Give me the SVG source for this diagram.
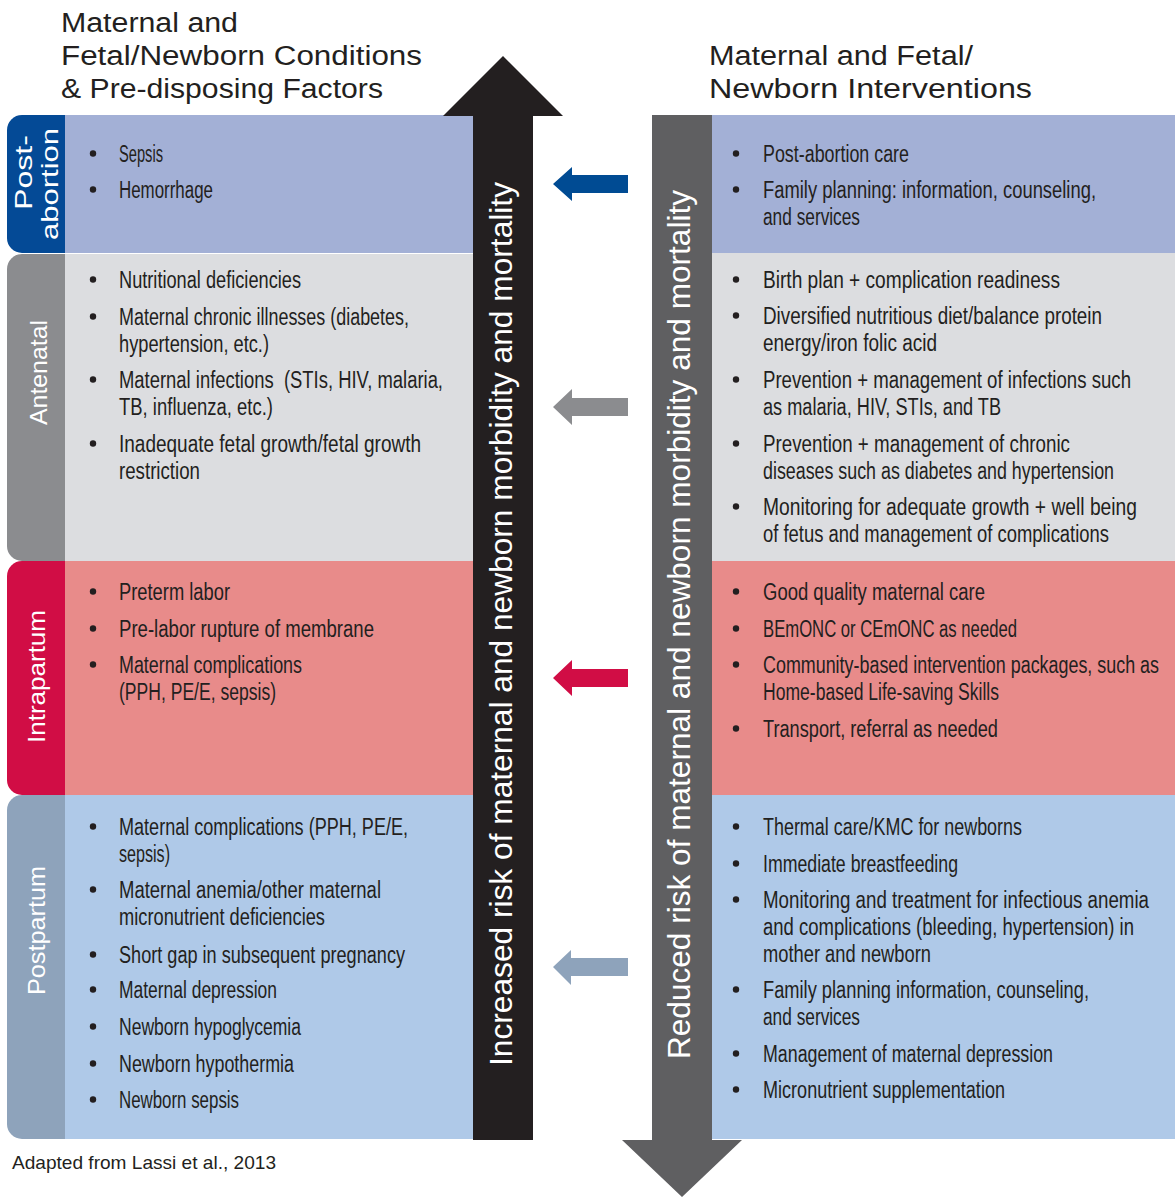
<svg xmlns="http://www.w3.org/2000/svg" width="1175" height="1198" viewBox="0 0 1175 1198">
<style>
text{font-family:"Liberation Sans",Arial,sans-serif;fill:#231f20}
.b{font-size:23px}
.h{font-size:27px}
.lab{font-size:24px;fill:#fff}
.v{font-size:31px;fill:#fff}
.f{font-size:19px}
.dot{fill:#231f20}
</style>
<rect width="1175" height="1198" fill="#fff"/>

<g id="heading-left">
<text class="h" x="61" y="32" textLength="177" lengthAdjust="spacingAndGlyphs">Maternal and</text>
<text class="h" x="61" y="65" textLength="361" lengthAdjust="spacingAndGlyphs">Fetal/Newborn Conditions</text>
<text class="h" x="61" y="98" textLength="322" lengthAdjust="spacingAndGlyphs">&amp; Pre-disposing Factors</text>
</g>
<g id="heading-right">
<text class="h" x="709" y="65" textLength="264" lengthAdjust="spacingAndGlyphs">Maternal and Fetal/</text>
<text class="h" x="709" y="98" textLength="323" lengthAdjust="spacingAndGlyphs">Newborn Interventions</text>
</g>

<!-- LEFT PANEL -->
<g id="left-postabortion">
<rect x="65" y="115" width="410" height="138" fill="#a3b0d6"/>
<path d="M65,115 H22 A15,15 0 0 0 7,130 V238 A15,15 0 0 0 22,253 H65 Z" fill="#044a96"/>
<text class="lab" transform="translate(32,210) rotate(-90)" textLength="75" lengthAdjust="spacingAndGlyphs">Post-</text>
<text class="lab" transform="translate(58,240) rotate(-90)" textLength="112" lengthAdjust="spacingAndGlyphs">abortion</text>
<circle class="dot" cx="93" cy="153.5" r="3.2"/><text class="b" x="119" y="162" textLength="44" lengthAdjust="spacingAndGlyphs">Sepsis</text>
<circle class="dot" cx="93" cy="189.5" r="3.2"/><text class="b" x="119" y="198" textLength="94" lengthAdjust="spacingAndGlyphs">Hemorrhage</text>
</g>

<g id="left-antenatal">
<rect x="65" y="254" width="410" height="307" fill="#dcdde0"/>
<path d="M65,254 H22 A15,15 0 0 0 7,269 V546 A15,15 0 0 0 22,561 H65 Z" fill="#8b8c8f"/>
<text class="lab" transform="translate(47,425) rotate(-90)" textLength="105" lengthAdjust="spacingAndGlyphs">Antenatal</text>
<circle class="dot" cx="93" cy="279.5" r="3.2"/><text class="b" x="119" y="288" textLength="182" lengthAdjust="spacingAndGlyphs">Nutritional deficiencies</text>
<circle class="dot" cx="93" cy="316.5" r="3.2"/><text class="b" x="119" y="325" textLength="290" lengthAdjust="spacingAndGlyphs">Maternal chronic illnesses (diabetes,</text>
<text class="b" x="119" y="352" textLength="150" lengthAdjust="spacingAndGlyphs">hypertension, etc.)</text>
<circle class="dot" cx="93" cy="379.5" r="3.2"/><text class="b" x="119" y="388" textLength="324" lengthAdjust="spacingAndGlyphs" xml:space="preserve">Maternal infections  (STIs, HIV, malaria,</text>
<text class="b" x="119" y="415" textLength="154" lengthAdjust="spacingAndGlyphs">TB, influenza, etc.)</text>
<circle class="dot" cx="93" cy="443.5" r="3.2"/><text class="b" x="119" y="452" textLength="302" lengthAdjust="spacingAndGlyphs">Inadequate fetal growth/fetal growth</text>
<text class="b" x="119" y="479" textLength="81" lengthAdjust="spacingAndGlyphs">restriction</text>
</g>

<g id="left-intrapartum">
<rect x="65" y="561" width="410" height="234" fill="#e88b8a"/>
<path d="M65,561 H22 A15,15 0 0 0 7,576 V780 A15,15 0 0 0 22,795 H65 Z" fill="#d10d45"/>
<text class="lab" transform="translate(45,743) rotate(-90)" textLength="133" lengthAdjust="spacingAndGlyphs">Intrapartum</text>
<circle class="dot" cx="93" cy="591.5" r="3.2"/><text class="b" x="119" y="600" textLength="111" lengthAdjust="spacingAndGlyphs">Preterm labor</text>
<circle class="dot" cx="93" cy="628.5" r="3.2"/><text class="b" x="119" y="637" textLength="255" lengthAdjust="spacingAndGlyphs">Pre-labor rupture of membrane</text>
<circle class="dot" cx="93" cy="664.5" r="3.2"/><text class="b" x="119" y="673" textLength="183" lengthAdjust="spacingAndGlyphs">Maternal complications</text>
<text class="b" x="119" y="700" textLength="157" lengthAdjust="spacingAndGlyphs">(PPH, PE/E, sepsis)</text>
</g>

<g id="left-postpartum">
<rect x="65" y="795" width="410" height="344" fill="#afc9e8"/>
<path d="M65,795 H22 A15,15 0 0 0 7,810 V1124 A15,15 0 0 0 22,1139 H65 Z" fill="#8ea3bb"/>
<text class="lab" transform="translate(45,995) rotate(-90)" textLength="129" lengthAdjust="spacingAndGlyphs">Postpartum</text>
<circle class="dot" cx="93" cy="826.5" r="3.2"/><text class="b" x="119" y="835" textLength="289" lengthAdjust="spacingAndGlyphs">Maternal complications (PPH, PE/E,</text>
<text class="b" x="119" y="862" textLength="51" lengthAdjust="spacingAndGlyphs">sepsis)</text>
<circle class="dot" cx="93" cy="889.5" r="3.2"/><text class="b" x="119" y="898" textLength="262" lengthAdjust="spacingAndGlyphs">Maternal anemia/other maternal</text>
<text class="b" x="119" y="925" textLength="206" lengthAdjust="spacingAndGlyphs">micronutrient deficiencies</text>
<circle class="dot" cx="93" cy="954.5" r="3.2"/><text class="b" x="119" y="963" textLength="286" lengthAdjust="spacingAndGlyphs">Short gap in subsequent pregnancy</text>
<circle class="dot" cx="93" cy="989.5" r="3.2"/><text class="b" x="119" y="998" textLength="158" lengthAdjust="spacingAndGlyphs">Maternal depression</text>
<circle class="dot" cx="93" cy="1026.5" r="3.2"/><text class="b" x="119" y="1035" textLength="182" lengthAdjust="spacingAndGlyphs">Newborn hypoglycemia</text>
<circle class="dot" cx="93" cy="1063.5" r="3.2"/><text class="b" x="119" y="1072" textLength="175" lengthAdjust="spacingAndGlyphs">Newborn hypothermia</text>
<circle class="dot" cx="93" cy="1099.5" r="3.2"/><text class="b" x="119" y="1108" textLength="120" lengthAdjust="spacingAndGlyphs">Newborn sepsis</text>
</g>

<!-- RIGHT PANEL -->
<g id="right-postabortion">
<rect x="712" y="115" width="463" height="138" fill="#a3b0d6"/>
<circle class="dot" cx="736" cy="153.5" r="3.2"/><text class="b" x="763" y="162" textLength="146" lengthAdjust="spacingAndGlyphs">Post-abortion care</text>
<circle class="dot" cx="736" cy="189.5" r="3.2"/><text class="b" x="763" y="198" textLength="333" lengthAdjust="spacingAndGlyphs">Family planning: information, counseling,</text>
<text class="b" x="763" y="225" textLength="97" lengthAdjust="spacingAndGlyphs">and services</text>
</g>

<g id="right-antenatal">
<rect x="712" y="253" width="463" height="308" fill="#dcdde0"/>
<circle class="dot" cx="736" cy="279.5" r="3.2"/><text class="b" x="763" y="288" textLength="297" lengthAdjust="spacingAndGlyphs">Birth plan + complication readiness</text>
<circle class="dot" cx="736" cy="315.5" r="3.2"/><text class="b" x="763" y="324" textLength="339" lengthAdjust="spacingAndGlyphs">Diversified nutritious diet/balance protein</text>
<text class="b" x="763" y="351" textLength="174" lengthAdjust="spacingAndGlyphs">energy/iron folic acid</text>
<circle class="dot" cx="736" cy="379.5" r="3.2"/><text class="b" x="763" y="388" textLength="368" lengthAdjust="spacingAndGlyphs">Prevention + management of infections such</text>
<text class="b" x="763" y="415" textLength="238" lengthAdjust="spacingAndGlyphs">as malaria, HIV, STIs, and TB</text>
<circle class="dot" cx="736" cy="443.5" r="3.2"/><text class="b" x="763" y="452" textLength="307" lengthAdjust="spacingAndGlyphs">Prevention + management of chronic</text>
<text class="b" x="763" y="479" textLength="351" lengthAdjust="spacingAndGlyphs">diseases such as diabetes and hypertension</text>
<circle class="dot" cx="736" cy="506.5" r="3.2"/><text class="b" x="763" y="515" textLength="374" lengthAdjust="spacingAndGlyphs">Monitoring for adequate growth + well being</text>
<text class="b" x="763" y="542" textLength="346" lengthAdjust="spacingAndGlyphs">of fetus and management of complications</text>
</g>

<g id="right-intrapartum">
<rect x="712" y="561" width="463" height="234" fill="#e88b8a"/>
<circle class="dot" cx="736" cy="591.5" r="3.2"/><text class="b" x="763" y="600" textLength="222" lengthAdjust="spacingAndGlyphs">Good quality maternal care</text>
<circle class="dot" cx="736" cy="628.5" r="3.2"/><text class="b" x="763" y="637" textLength="254" lengthAdjust="spacingAndGlyphs">BEmONC or CEmONC as needed</text>
<circle class="dot" cx="736" cy="664.5" r="3.2"/><text class="b" x="763" y="673" textLength="396" lengthAdjust="spacingAndGlyphs">Community-based intervention packages, such as</text>
<text class="b" x="763" y="700" textLength="236" lengthAdjust="spacingAndGlyphs">Home-based Life-saving Skills</text>
<circle class="dot" cx="736" cy="728.5" r="3.2"/><text class="b" x="763" y="737" textLength="235" lengthAdjust="spacingAndGlyphs">Transport, referral as needed</text>
</g>

<g id="right-postpartum">
<rect x="712" y="795" width="463" height="344" fill="#afc9e8"/>
<circle class="dot" cx="736" cy="826.5" r="3.2"/><text class="b" x="763" y="835" textLength="259" lengthAdjust="spacingAndGlyphs">Thermal care/KMC for newborns</text>
<circle class="dot" cx="736" cy="863.5" r="3.2"/><text class="b" x="763" y="872" textLength="195" lengthAdjust="spacingAndGlyphs">Immediate breastfeeding</text>
<circle class="dot" cx="736" cy="899.5" r="3.2"/><text class="b" x="763" y="908" textLength="386" lengthAdjust="spacingAndGlyphs">Monitoring and treatment for infectious anemia</text>
<text class="b" x="763" y="935" textLength="371" lengthAdjust="spacingAndGlyphs">and complications (bleeding, hypertension) in</text>
<text class="b" x="763" y="962" textLength="168" lengthAdjust="spacingAndGlyphs">mother and newborn</text>
<circle class="dot" cx="736" cy="989.5" r="3.2"/><text class="b" x="763" y="998" textLength="326" lengthAdjust="spacingAndGlyphs">Family planning information, counseling,</text>
<text class="b" x="763" y="1025" textLength="97" lengthAdjust="spacingAndGlyphs">and services</text>
<circle class="dot" cx="736" cy="1053.5" r="3.2"/><text class="b" x="763" y="1062" textLength="290" lengthAdjust="spacingAndGlyphs">Management of maternal depression</text>
<circle class="dot" cx="736" cy="1089.5" r="3.2"/><text class="b" x="763" y="1098" textLength="242" lengthAdjust="spacingAndGlyphs">Micronutrient supplementation</text>
</g>

<!-- BIG ARROWS -->
<g id="increased-risk">
<path d="M473,1140 V116 H443 L503,56 L563,116 H533 V1140 Z" fill="#231f20"/>
<text class="v" transform="translate(512,1066) rotate(-90)" textLength="884" lengthAdjust="spacingAndGlyphs">Increased risk of maternal and newborn morbidity and mortality</text>
</g>
<g id="reduced-risk">
<path d="M652,115 H712 V1140 H742 L682,1197 L622,1140 H652 Z" fill="#5f5f61"/>
<text class="v" transform="translate(690,1059) rotate(-90)" textLength="869" lengthAdjust="spacingAndGlyphs">Reduced risk of maternal and newborn morbidity and mortality</text>
</g>

<g id="connectors">
<path d="M628,175 H572 V167 L553,184 L572,201 V193 H628 Z" fill="#004b93"/>
<path d="M628,398 H572 V389 L553,407 L572,425 V416 H628 Z" fill="#8b8c8f"/>
<path d="M628,669 H572 V660 L553,678 L572,696 V687 H628 Z" fill="#d10d45"/>
<path d="M628,958 H571 V950 L553,967 L571,985 V976 H628 Z" fill="#8ea3bb"/>
</g>

<g id="footer">
<text class="f" x="12" y="1169" textLength="264" lengthAdjust="spacingAndGlyphs">Adapted from Lassi et al., 2013</text>
</g>
</svg>
